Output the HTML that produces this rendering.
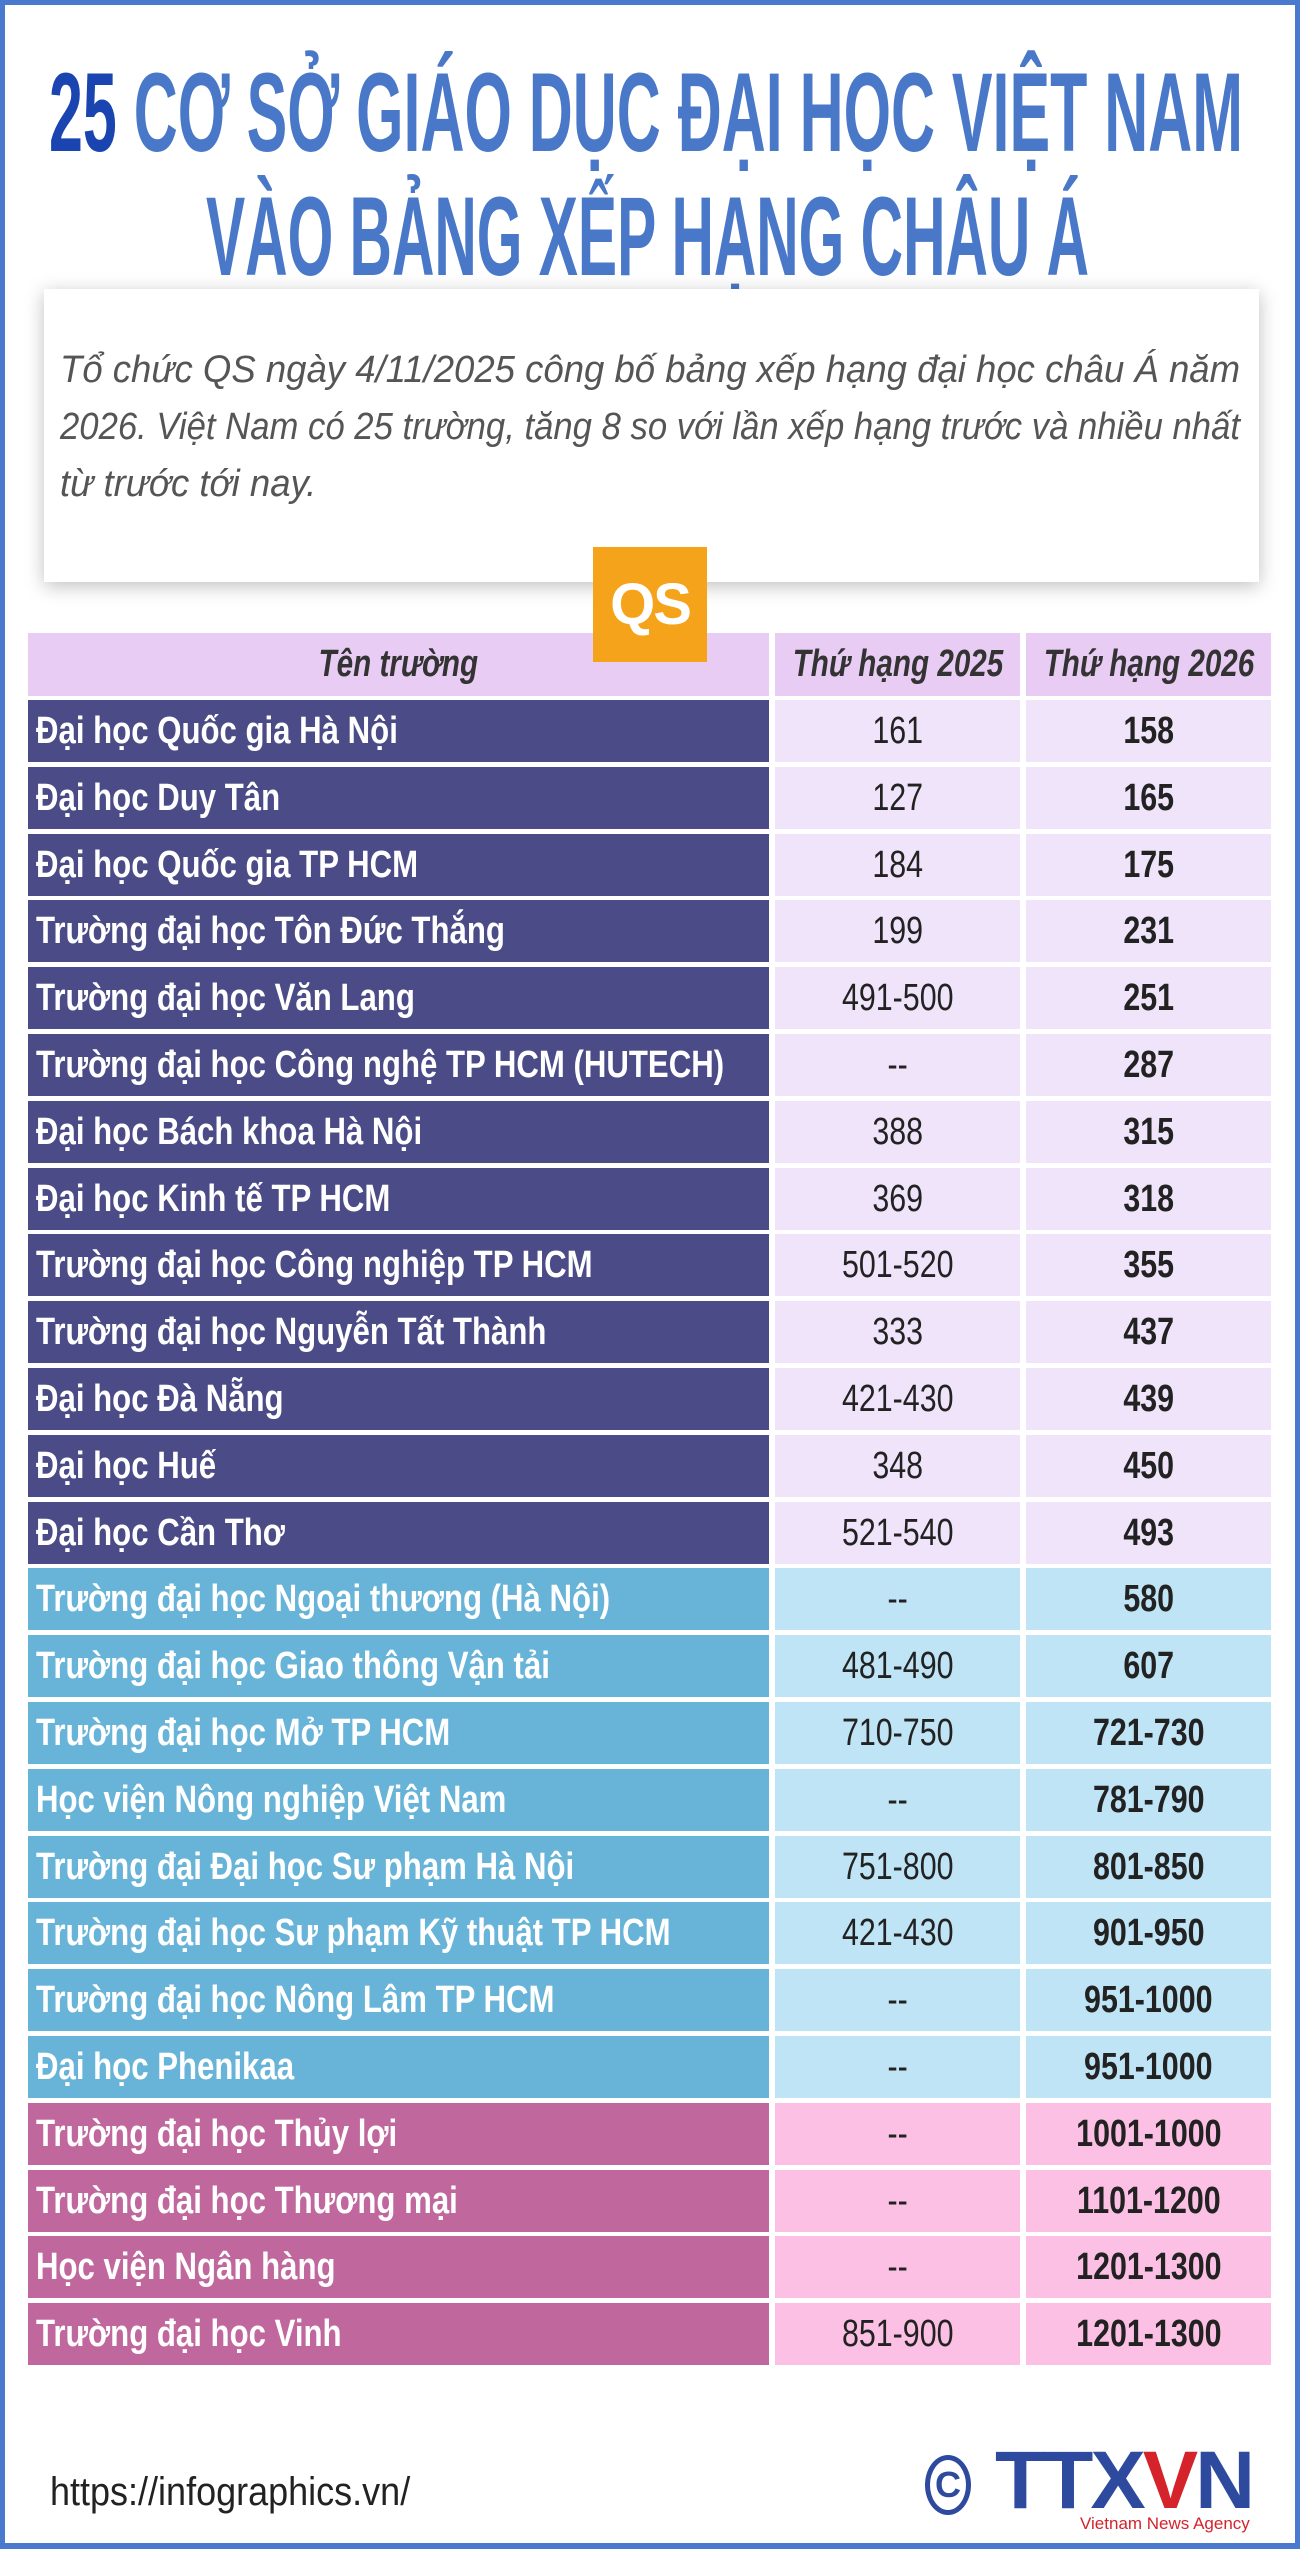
<!DOCTYPE html>
<html><head><meta charset="utf-8">
<style>
*{margin:0;padding:0;box-sizing:border-box}
body{width:1300px;height:2549px;background:#fff;position:relative;overflow:hidden;font-family:"Liberation Sans",sans-serif}
.frame{position:absolute;left:0;top:0;width:1300px;height:2549px;border:5px solid #4a7ad0;border-bottom-width:6px;z-index:5;pointer-events:none}
.t{position:absolute;white-space:nowrap;font-weight:bold;color:#4a78c8;font-size:112px;line-height:1;transform-origin:left top;display:inline-block}
.box{position:absolute;left:44px;top:289px;width:1215px;height:293px;background:#fff;box-shadow:0 4px 18px rgba(0,0,0,0.25)}
.pl{position:absolute;left:16px;font-style:italic;color:#555;font-size:38px;line-height:57px;white-space:nowrap;transform-origin:left top;display:inline-block}
.qs{position:absolute;left:593px;top:547px;width:114px;height:115px;background:#f5a31a;z-index:3;color:#fff;font-weight:bold;font-size:58px;text-align:center;line-height:115px;letter-spacing:-2px}
.c{position:absolute;display:flex;align-items:center;font-size:38px;white-space:nowrap;overflow:visible}
.c span{display:inline-block}
.n{left:28px;width:741px;color:#fff;font-weight:bold;padding-left:8px}
.n span{transform:scaleX(0.82);transform-origin:left center}
.a{left:775px;width:245px;justify-content:center;color:#222}
.a span,.b span{transform:scaleX(0.8)}
.b{left:1026px;width:245px;justify-content:center;color:#222;font-weight:bold}
.h{top:633px;height:63px;background:#e8ccf3;font-style:italic;font-weight:bold;color:#333;justify-content:center}
.h span{transform:scaleX(0.78)}
.url{position:absolute;left:50px;top:2470px;font-size:40px;color:#222;transform:scaleX(0.9);transform-origin:left top}
</style></head><body>
<div class="frame"></div>
<div class="t" id="t1" style="left:49px;top:57px"><span style="color:#1a45b0">25</span> CƠ SỞ GIÁO DỤC ĐẠI HỌC VIỆT NAM</div>
<div class="t" id="t2" style="left:206px;top:181px">VÀO BẢNG XẾP HẠNG CHÂU Á</div>
<div class="box">
<div class="pl" id="p1" style="top:53px">Tổ chức QS ngày 4/11/2025 công bố bảng xếp hạng đại học châu Á năm</div>
<div class="pl" id="p2" style="top:110px">2026. Việt Nam có 25 trường, tăng 8 so với lần xếp hạng trước và nhiều nhất</div>
<div class="pl" id="p3" style="top:167px">từ trước tới nay.</div>
</div>
<div class="qs">QS</div>
<div class="c h" style="left:28px;width:741px"><span>Tên trường</span></div>
<div class="c h" style="left:775px;width:245px"><span>Thứ hạng 2025</span></div>
<div class="c h" style="left:1026px;width:245px"><span>Thứ hạng 2026</span></div>
<div id="rows"></div>
<div class="url">https://infographics.vn/</div>
<div style="position:absolute;left:925px;top:2455px;width:46px;height:60px;border:5px solid #2d4a9e;border-radius:50%;color:#2d4a9e;font-size:36px;font-weight:bold;text-align:center;line-height:50px">C</div>
<div id="tt" style="position:absolute;left:995px;top:2440px;font-size:82px;font-weight:900;color:#2d4a9e;line-height:1;white-space:nowrap;letter-spacing:-3px;display:inline-block;transform-origin:left top">TTX<span style="color:#d4232b">V</span>N</div>
<div style="position:absolute;left:1080px;top:2514px;font-size:17px;color:#d4232b;white-space:nowrap">Vietnam News Agency</div>
<script>
var d=[["Đại học Quốc gia Hà Nội","161","158"],["Đại học Duy Tân","127","165"],["Đại học Quốc gia TP HCM","184","175"],["Trường đại học Tôn Đức Thắng","199","231"],["Trường đại học Văn Lang","491-500","251"],["Trường đại học Công nghệ TP HCM (HUTECH)","--","287"],["Đại học Bách khoa Hà Nội","388","315"],["Đại học Kinh tế TP HCM","369","318"],["Trường đại học Công nghiệp TP HCM","501-520","355"],["Trường đại học Nguyễn Tất Thành","333","437"],["Đại học Đà Nẵng","421-430","439"],["Đại học Huế","348","450"],["Đại học Cần Thơ","521-540","493"],["Trường đại học Ngoại thương (Hà Nội)","--","580"],["Trường đại học Giao thông Vận tải","481-490","607"],["Trường đại học Mở TP HCM","710-750","721-730"],["Học viện Nông nghiệp Việt Nam","--","781-790"],["Trường đại Đại học Sư phạm Hà Nội","751-800","801-850"],["Trường đại học Sư phạm Kỹ thuật TP HCM","421-430","901-950"],["Trường đại học Nông Lâm TP HCM","--","951-1000"],["Đại học Phenikaa","--","951-1000"],["Trường đại học Thủy lợi","--","1001-1000"],["Trường đại học Thương mại","--","1101-1200"],["Học viện Ngân hàng","--","1201-1300"],["Trường đại học Vinh","851-900","1201-1300"]];
var h="";
for(var i=0;i<d.length;i++){var t=Math.round(700+i*66.8);var dk,lt;
if(i<13){dk="#4b4b87";lt="#f0e4fa"}else if(i<21){dk="#68b4d8";lt="#bee4f5"}else{dk="#c0679e";lt="#fcc0e4"}
var s="top:"+t+"px;height:62px;";
h+='<div class="c n" style="'+s+'background:'+dk+'"><span>'+d[i][0]+'</span></div><div class="c a" style="'+s+'background:'+lt+'"><span>'+d[i][1]+'</span></div><div class="c b" style="'+s+'background:'+lt+'"><span>'+d[i][2]+'</span></div>';}
document.getElementById("rows").innerHTML=h;
function fit(id,w){var e=document.getElementById(id);var r=e.getBoundingClientRect().width;var k=w/r;e.style.transform="scaleX("+k+")";return k;}
fit("t1",1194);fit("t2",883);
var k=fit("p1",1180);fit("p2",1180);
document.getElementById("p3").style.transform="scaleX("+k+")";
fit("tt",257);
</script>
</body></html>
